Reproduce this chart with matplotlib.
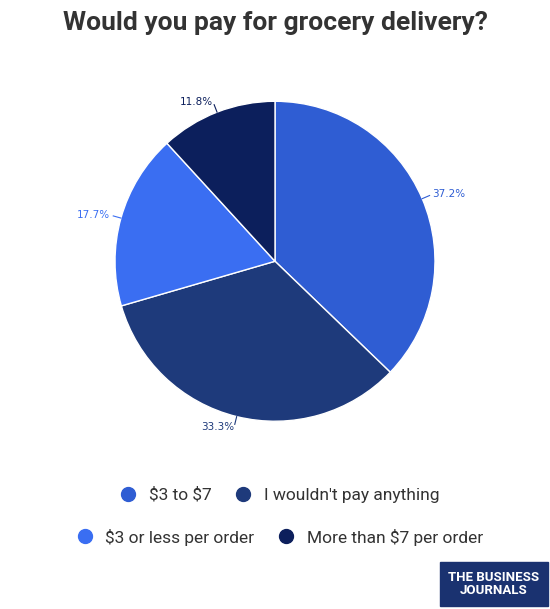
import matplotlib.pyplot as plt
from matplotlib.lines import Line2D
from matplotlib.patches import Rectangle
import numpy as np

labels = [r"\$3 to \$7", "I wouldn't pay anything", r"\$3 or less per order", r"More than \$7 per order"]
values = [37.2, 33.3, 17.7, 11.8]
colors = ["#2f5dd3", "#1e3a7b", "#3a6ef2", "#0c1f5c"]

fig = plt.figure(figsize=(5.5, 6.09), dpi=100)

fig.text(0.5, 0.963, "Would you pay for grocery delivery?", ha="center", va="center",
         fontsize=19, fontweight="bold", color="#333333", family=["Roboto", "DejaVu Sans"])

ax = fig.add_axes([0.5 - 0.291, 0.571 - 0.2627, 0.582, 0.5254])
wedges, _ = ax.pie(values, colors=colors, startangle=90, counterclock=False,
                   wedgeprops=dict(edgecolor="white", linewidth=1))
ax.set_aspect("equal")
ax.set_xlim(-1, 1)
ax.set_ylim(-1, 1)

for w, v, c in zip(wedges, values, colors):
    ang = np.deg2rad((w.theta1 + w.theta2) / 2)
    x, y = np.cos(ang), np.sin(ang)
    ax.plot([x, 1.05 * x], [y, 1.05 * y], color=c, lw=0.8, clip_on=False)
    ax.text(1.07 * x, 1.07 * y, f"{v}%", ha="left" if x > 0 else "right",
            va="center", fontsize=7.5, color=c)

fs = 12.5
row1 = [Line2D([], [], marker="o", ls="", color=colors[i], markersize=10) for i in (0, 1)]
row2 = [Line2D([], [], marker="o", ls="", color=colors[i], markersize=10) for i in (2, 3)]
for handles, labs, y in [(row1, labels[:2], 1 - 495 / 609), (row2, labels[2:], 1 - 537 / 609)]:
    fig.legend(handles, labs, loc="center", bbox_to_anchor=(0.5, y), ncol=2, frameon=False,
               fontsize=fs, labelcolor="#333333", handletextpad=0.2, columnspacing=0.8,
               prop={"family": ["Roboto", "DejaVu Sans"], "size": fs})

fig.patches.append(Rectangle((440 / 550, 3 / 609), 108 / 550, 44 / 609,
                             transform=fig.transFigure, color="#1a3270"))
fig.text(494 / 550, 25 / 609, "THE BUSINESS\nJOURNALS", ha="center", va="center",
         color="white", fontsize=9.5, fontweight="bold", linespacing=0.95,
         family=["Roboto", "DejaVu Sans"])

fig.savefig("out.png", dpi=100)
